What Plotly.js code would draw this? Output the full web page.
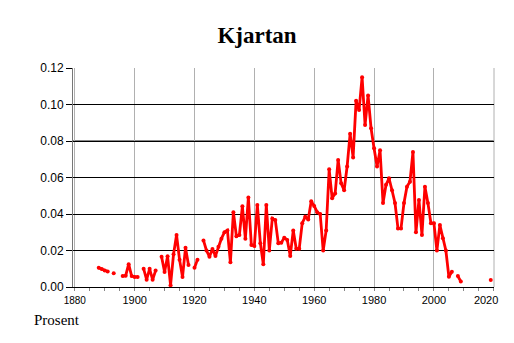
<!DOCTYPE html>
<html>
<head>
<meta charset="utf-8">
<script src="https://cdn.plot.ly/plotly-3.0.1.min.js"></script>
<style>html,body{margin:0;padding:0;background:#fff;}#chart{width:514px;height:343px;}</style>
</head>
<body>
<div id="chart"></div>
<script>
const years = [];
for (let y = 1888; y <= 2019; y++) years.push(y);

const prosent = [
  0.0105, 0.0098, 0.0090, 0.0085, null, 0.0075, null, null,          // 1888-1895
  0.0060, 0.0062, 0.0125, 0.0060, 0.0055, 0.0055, null,               // 1896-1902
  0.0100, 0.0040, 0.0100, 0.0040, 0.0090, null,                       // 1903-1908
  0.0166, 0.0082, 0.0168, 0.0010, 0.0180, 0.0285, 0.0150, 0.0055,     // 1909-1916
  0.0215, 0.0120, null, 0.0105, 0.0150, null,                         // 1917-1922
  0.0255, 0.0200, 0.0166, 0.0208, 0.0170, 0.0220, 0.0265, 0.0300,     // 1923-1930
  0.0310, 0.0135, 0.0410, 0.0278, 0.0285, 0.0442, 0.0265, 0.0490,     // 1931-1938
  0.0230, 0.0225, 0.0450, 0.0240, 0.0125, 0.0450, 0.0200, 0.0376,     // 1939-1946
  0.0367, 0.0240, 0.0243, 0.0270, 0.0258, 0.0170, 0.0310, 0.0210,     // 1947-1954
  0.0210, 0.0350, 0.0385, 0.0370, 0.0470, 0.0444, 0.0410, 0.0400,     // 1955-1962
  0.0200, 0.0310, 0.0645, 0.0486, 0.0513, 0.0696, 0.0568, 0.0530,     // 1963-1970
  0.0660, 0.0840, 0.0710, 0.1020, 0.0970, 0.1150, 0.0888, 0.1050,     // 1971-1978
  0.0870, 0.0760, 0.0660, 0.0750, 0.0460, 0.0560, 0.0596, 0.0530,     // 1979-1986
  0.0460, 0.0320, 0.0320, 0.0460, 0.0550, 0.0577, 0.0740, 0.0300,     // 1987-1994
  0.0477, 0.0285, 0.0550, 0.0460, 0.0350, 0.0350, 0.0200, 0.0340,     // 1995-2002
  0.0267, 0.0200, 0.0056, 0.0084, null, 0.0060, 0.0030,               // 2003-2009
  null, null, null, null, null, null, null, null, null, 0.0038        // 2010-2019
];

const xTickVals = [1880, 1900, 1920, 1940, 1960, 1980, 2000, 2020];
const xTickText = ['<span style="font-size:10px">1880</span>', '1900', '1920', '1940', '1960', '1980', '2000',
  '2020&nbsp;&nbsp;&nbsp;&nbsp;&nbsp;'];
const yTickVals = [0, 0.02, 0.04, 0.06, 0.08, 0.10, 0.12];

const trace = {
  x: years,
  y: prosent,
  type: 'scatter',
  mode: 'lines+markers',
  line: {color: '#ff0000', width: 2.8},
  marker: {color: '#ff0000', size: 4},
  connectgaps: false,
  hoverinfo: 'skip'
};

const layout = {
  width: 514,
  height: 343,
  margin: {l: 73, r: 20, t: 68, b: 56},
  paper_bgcolor: '#ffffff',
  plot_bgcolor: '#ffffff',
  showlegend: false,
  title: {
    text: '<b>Kjartan</b>',
    font: {family: 'Liberation Serif', size: 23, color: '#000'},
    x: 0.5, xref: 'container', xanchor: 'center',
    y: 0.898, yref: 'container', yanchor: 'middle'
  },
  xaxis: {
    range: [1879.4, 2020.08],
    tickmode: 'array',
    tickvals: xTickVals,
    ticktext: xTickText,
    ticklabeloverflow: 'allow',
    showgrid: true,
    gridcolor: '#b0b0b0',
    gridwidth: 1,
    zeroline: false,
    showline: true,
    linecolor: '#000',
    linewidth: 1,
    ticks: 'outside',
    ticklen: 3,
    tickcolor: '#888',
    minor: {dtick: 5, tick0: 1880, ticks: 'outside', ticklen: 3, tickcolor: '#888', showgrid: false},
    tickfont: {family: 'Liberation Sans', size: 11, color: '#000'},
    fixedrange: true
  },
  yaxis: {
    range: [0, 0.12],
    tickvals: yTickVals,
    tickformat: '.2f',
    showgrid: true,
    gridcolor: '#000',
    gridwidth: 1,
    zeroline: true,
    zerolinecolor: '#000',
    zerolinewidth: 1,
    showline: true,
    linecolor: '#777',
    linewidth: 1,
    ticks: 'outside',
    ticklen: 6,
    tickcolor: '#000',
    tickfont: {family: 'Liberation Sans', size: 12, color: '#000'},
    fixedrange: true
  },
  shapes: [
    {type: 'line', xref: 'paper', yref: 'y', x0: 0, x1: 1, y0: 0.08, y1: 0.08,
     line: {color: '#888888', width: 2}, layer: 'below'},
    {type: 'line', xref: 'paper', yref: 'paper', x0: 1, x1: 1, y0: 0, y1: 1,
     line: {color: '#b0b0b0', width: 1}, layer: 'below'}
  ],
  annotations: [
    {text: 'Prosent', xref: 'paper', yref: 'paper', x: -0.097, y: -0.151,
     xanchor: 'left', yanchor: 'middle', showarrow: false,
     font: {family: 'Liberation Serif', size: 15, color: '#000'}}
  ]
};

Plotly.newPlot('chart', [trace], layout, {displayModeBar: false, staticPlot: true});
</script>
</body>
</html>
